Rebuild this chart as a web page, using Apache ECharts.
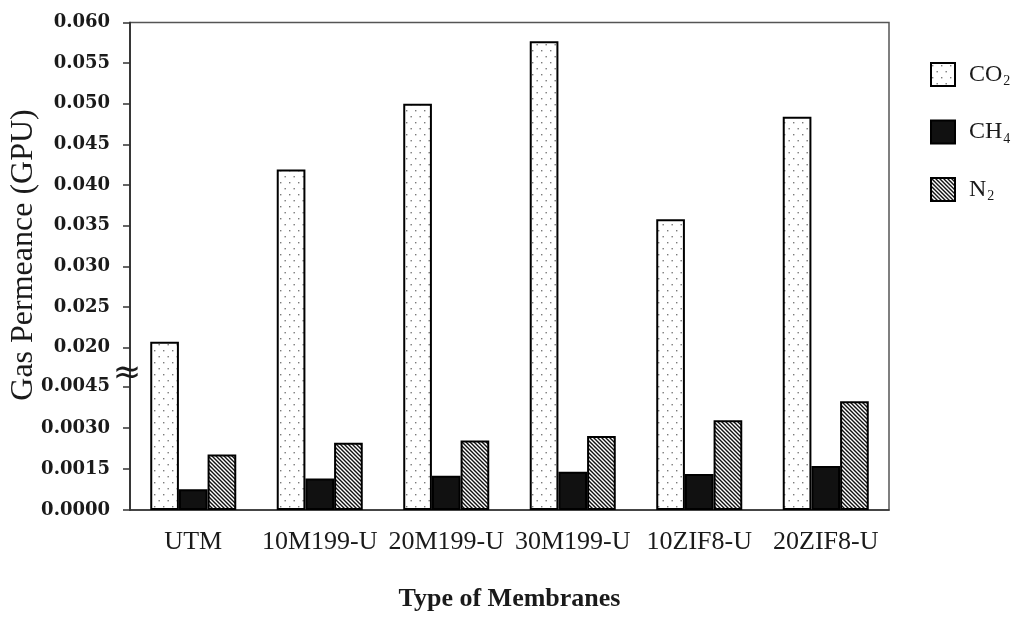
<!DOCTYPE html>
<html>
<head>
<meta charset="utf-8">
<script src="https://cdn.jsdelivr.net/npm/echarts@6/dist/echarts.min.js"></script>
<style>
html,body{margin:0;padding:0;background:#fff;}
#chart{width:1015px;height:617px;}
</style>
</head>
<body>
<div id="chart"></div>
<script>
// ---- data ----
const categories = ['UTM', '10M199-U', '20M199-U', '30M199-U', '10ZIF8-U', '20ZIF8-U'];
const seriesNames = ['CO2', 'CH4', 'N2'];
const co2 = [0.0207, 0.0419, 0.0500, 0.0577, 0.0358, 0.0484];
const ch4 = [0.00076, 0.00115, 0.00125, 0.00140, 0.00131, 0.00161];
const n2 = [0.00203, 0.00246, 0.00254, 0.00270, 0.00328, 0.00397];
const upperTicks = [0.020, 0.025, 0.030, 0.035, 0.040, 0.045, 0.050, 0.055, 0.060];
const lowerTicks = [0.0000, 0.0015, 0.0030, 0.0045];
const legendLabels = { CO2: 'CO{s|2}', CH4: 'CH{s|4}', N2: 'N{s|2}' };

// ---- patterns ----
function dotPattern() {
  const c = document.createElement('canvas');
  c.width = 9; c.height = 12;
  const g = c.getContext('2d');
  g.fillStyle = '#ffffff'; g.fillRect(0, 0, 9, 12);
  g.fillStyle = '#7a7a7a';
  g.fillRect(1, 2, 1.4, 1.4);
  g.fillRect(5.5, 8, 1.4, 1.4);
  return c;
}
function hatchPattern() {
  const c = document.createElement('canvas');
  c.width = 4; c.height = 4;
  const g = c.getContext('2d');
  g.fillStyle = '#ffffff'; g.fillRect(0, 0, 4, 4);
  g.strokeStyle = '#111'; g.lineWidth = 1.4;
  g.beginPath();
  g.moveTo(-1, -1); g.lineTo(5, 5);
  g.moveTo(-1, 3); g.lineTo(1, 5);
  g.moveTo(3, -1); g.lineTo(5, 1);
  g.stroke();
  return c;
}

const serif = '"Liberation Serif", "Times New Roman", serif';
const axisColor = '#333';

const chart = echarts.init(document.getElementById('chart'), null, { renderer: 'canvas' });

const yCommon = {
  type: 'value',
  position: 'left',
  min: 0,
  splitLine: { show: false },
  axisLine: { show: true, lineStyle: { color: axisColor, width: 1.5 } },
  axisTick: { show: true, length: 7, lineStyle: { color: axisColor, width: 1.5 } }
};
const yLabelStyle = { fontFamily: '"DejaVu Serif", serif', fontWeight: 'bold', fontSize: 18, color: '#1a1a1a', margin: 20 };

chart.setOption({
  animation: false,
  backgroundColor: '#fff',
  grid: {
    left: 130, right: 126, top: 22.5, bottom: 104,
    show: true, borderColor: '#555', borderWidth: 1.5, backgroundColor: '#fff'
  },
  legend: {
    orient: 'vertical',
    left: 925, top: 57,
    itemWidth: 24, itemHeight: 23, itemGap: 31,
    icon: 'rect',
    data: seriesNames,
    formatter: function (n) { return legendLabels[n]; },
    textStyle: {
      fontFamily: serif, fontSize: 24, color: '#1a1a1a', padding: [0, 0, 0, 9],
      rich: { s: { fontFamily: serif, fontSize: 14, color: '#1a1a1a', padding: [14, 0, 0, 1] } }
    }
  },
  xAxis: {
    type: 'category',
    data: categories,
    axisLine: { show: true, onZero: false, lineStyle: { color: axisColor, width: 1.5 } },
    axisTick: { show: false },
    axisLabel: { interval: 0, margin: 19, fontFamily: serif, fontSize: 26, color: '#1a1a1a' },
    name: 'Type of Membranes',
    nameLocation: 'middle',
    nameGap: 76,
    nameTextStyle: { fontFamily: serif, fontSize: 26, fontWeight: 'bold', color: '#1a1a1a' }
  },
  yAxis: [
    Object.assign({}, yCommon, {
      max: 0.060,
      axisTick: Object.assign({}, yCommon.axisTick, { customValues: upperTicks }),
      axisLabel: Object.assign({}, yLabelStyle, { customValues: upperTicks, formatter: function (v) { return v.toFixed(3); } })
    }),
    Object.assign({}, yCommon, {
      max: 0.0178,
      axisTick: Object.assign({}, yCommon.axisTick, { customValues: lowerTicks }),
      axisLabel: Object.assign({}, yLabelStyle, { customValues: lowerTicks, formatter: function (v) { return v.toFixed(4); } })
    })
  ],
  graphic: [
    {
      type: 'text', x: 24, y: 255, rotation: Math.PI / 2,
      style: { text: 'Gas Permeance (GPU)', font: '32px "Liberation Serif"', fill: '#1a1a1a', align: 'center', verticalAlign: 'middle' }
    },
    {
      type: 'text', x: 127, y: 374, z: 10,
      style: { text: '\u2248', font: '34px "DejaVu Sans"', fill: '#1a1a1a', align: 'center', verticalAlign: 'middle' }
    }
  ],
  series: [
    {
      name: 'CO2', type: 'bar', data: co2, yAxisIndex: 0,
      barGap: '0%', barCategoryGap: '32%',
      itemStyle: { color: { image: dotPattern(), repeat: 'repeat' }, borderColor: '#000', borderWidth: 2 }
    },
    {
      name: 'CH4', type: 'bar', data: ch4, yAxisIndex: 1,
      barGap: '0%', barCategoryGap: '32%',
      itemStyle: { color: '#111', borderColor: '#000', borderWidth: 2 }
    },
    {
      name: 'N2', type: 'bar', data: n2, yAxisIndex: 1,
      barGap: '0%', barCategoryGap: '32%',
      itemStyle: { color: { image: hatchPattern(), repeat: 'repeat' }, borderColor: '#000', borderWidth: 2 }
    }
  ]
});
</script>
</body>
</html>
